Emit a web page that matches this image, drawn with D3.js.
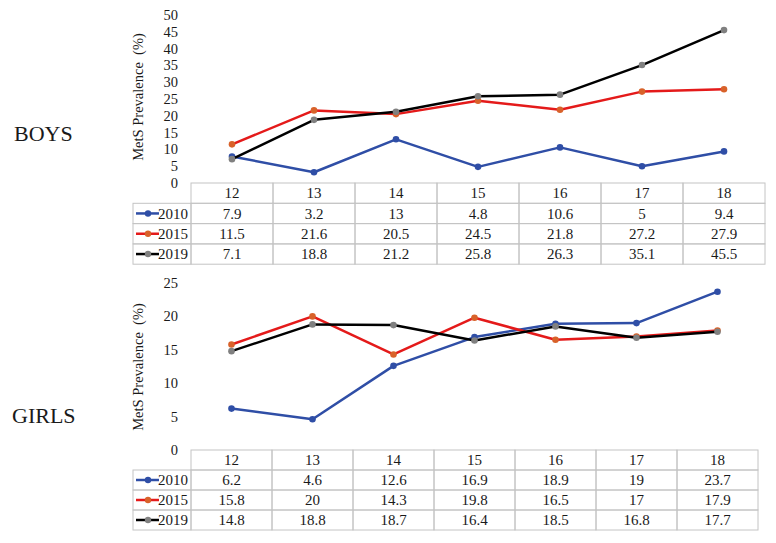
<!DOCTYPE html>
<html><head><meta charset="utf-8">
<script src="https://cdn.jsdelivr.net/npm/d3@7"></script>
<style>body{margin:0;background:#fff}svg{display:block}</style>
</head><body>
<svg id="c" width="776" height="543"></svg>
<script>
const ages = ["12","13","14","15","16","17","18"];
const years = ["2010","2015","2019"];
const boys2010 = [7.9,3.2,13,4.8,10.6,5,9.4];
const boys2015 = [11.5,21.6,20.5,24.5,21.8,27.2,27.9];
const boys2019 = [7.1,18.8,21.2,25.8,26.3,35.1,45.5];
const girls2010 = [6.2,4.6,12.6,16.9,18.9,19,23.7];
const girls2015 = [15.8,20,14.3,19.8,16.5,17,17.9];
const girls2019 = [14.8,18.8,18.7,16.4,18.5,16.8,17.7];
const boysTicks = [0,5,10,15,20,25,30,35,40,45,50];
const girlsTicks = [0,5,10,15,20,25];
const lineColors = {"2010":"#2f4ea6","2015":"#e41a1a","2019":"#000000"};
const markColors = {"2010":"#2f4ea6","2015":"#d8622a","2019":"#808080"};
const FF = "'Liberation Serif', 'Times New Roman', Times, serif";

const svg = d3.select("#c");

function txt(sel){ return sel.attr("font-family", FF).attr("fill", "#1a1a1a"); }

function panel(cfg){
  const g = svg.append("g");
  const x = d3.scaleBand().domain(ages).range([cfg.x0, cfg.x1]).padding(0);
  const y = d3.scaleLinear().domain([0, cfg.ymax]).range([cfg.yBase, cfg.yTop]);
  // y ticks
  txt(g.selectAll(".tk").data(cfg.ticks).join("text"))
    .attr("x", 178).attr("y", d => y(d)).attr("dy","0.35em")
    .attr("text-anchor","end").attr("font-size", 14.5).text(d => d);
  // y title
  txt(g.append("text")).attr("transform",`translate(${cfg.titleX},${cfg.titleY}) rotate(-90)`)
    .attr("text-anchor","middle").attr("font-size", 14.5).attr("xml:space","preserve")
    .text("MetS Prevalence  (%)");
  // side label
  txt(g.append("text")).attr("x", cfg.labelX).attr("y", cfg.labelY).attr("font-size", 22).text(cfg.label);
  // table
  const rh = cfg.rowH;
  const tb = g.append("g").attr("fill","none").attr("stroke","#c4c4c4").attr("stroke-width",1);
  tb.selectAll(".hc").data(ages).join("rect")
    .attr("x", d => x(d)).attr("y", cfg.yBase).attr("width", x.bandwidth()).attr("height", rh);
  years.forEach((yr,i) => {
    const ry = cfg.yBase + rh*(i+1);
    tb.append("rect").attr("x", cfg.labX).attr("y", ry).attr("width", cfg.x0 - cfg.labX).attr("height", rh);
    tb.selectAll(".vc"+i).data(ages).join("rect")
      .attr("x", d => x(d)).attr("y", ry).attr("width", x.bandwidth()).attr("height", rh);
  });
  txt(g.selectAll(".ht").data(ages).join("text"))
    .attr("x", d => x(d)+x.bandwidth()/2).attr("y", cfg.yBase + rh/2).attr("dy","0.35em")
    .attr("text-anchor","middle").attr("font-size", 15).text(d => d);
  years.forEach((yr,i) => {
    const vals = cfg.data[i];
    const cy = cfg.yBase + rh*(i+1) + rh/2;
    txt(g.selectAll(".vt"+i).data(vals).join("text"))
      .attr("x", (d,j) => x(ages[j])+x.bandwidth()/2).attr("y", cy).attr("dy","0.35em")
      .attr("text-anchor","middle").attr("font-size", 15).text(d => d);
    g.append("line").attr("x1", cfg.labX+3).attr("x2", cfg.labX+26).attr("y1", cy).attr("y2", cy)
      .attr("stroke", lineColors[yr]).attr("stroke-width", 2.5);
    g.append("circle").attr("cx", cfg.labX+15).attr("cy", cy).attr("r", 3.2).attr("fill", markColors[yr]);
    txt(g.append("text")).attr("x", cfg.labX+25).attr("y", cy).attr("dy","0.35em").attr("font-size", 15).text(yr);
  });
  const line = d3.line().x((d,j) => x(ages[j])+x.bandwidth()/2).y(d => y(d));
  years.forEach((yr,i) => {
    const vals = cfg.data[i];
    g.append("path").datum(vals).attr("d", line).attr("fill","none")
      .attr("stroke", lineColors[yr]).attr("stroke-width", 2.5).attr("stroke-linejoin","round");
    g.selectAll(".pt"+i).data(vals).join("circle")
      .attr("cx", (d,j) => x(ages[j])+x.bandwidth()/2).attr("cy", d => y(d)).attr("r", 3.3)
      .attr("fill", markColors[yr]);
  });
}

panel({x0:191, x1:765, yBase:183, yTop:15, ymax:50, ticks:boysTicks, rowH:20.3, labX:133,
  titleX:143, titleY:97, label:"BOYS", labelX:14, labelY:141, data:[boys2010,boys2015,boys2019]});
panel({x0:191, x1:758, yBase:450, yTop:283, ymax:25, ticks:girlsTicks, rowH:20, labX:133,
  titleX:143, titleY:367, label:"GIRLS", labelX:12, labelY:423, data:[girls2010,girls2015,girls2019]});
</script>
</body></html>
